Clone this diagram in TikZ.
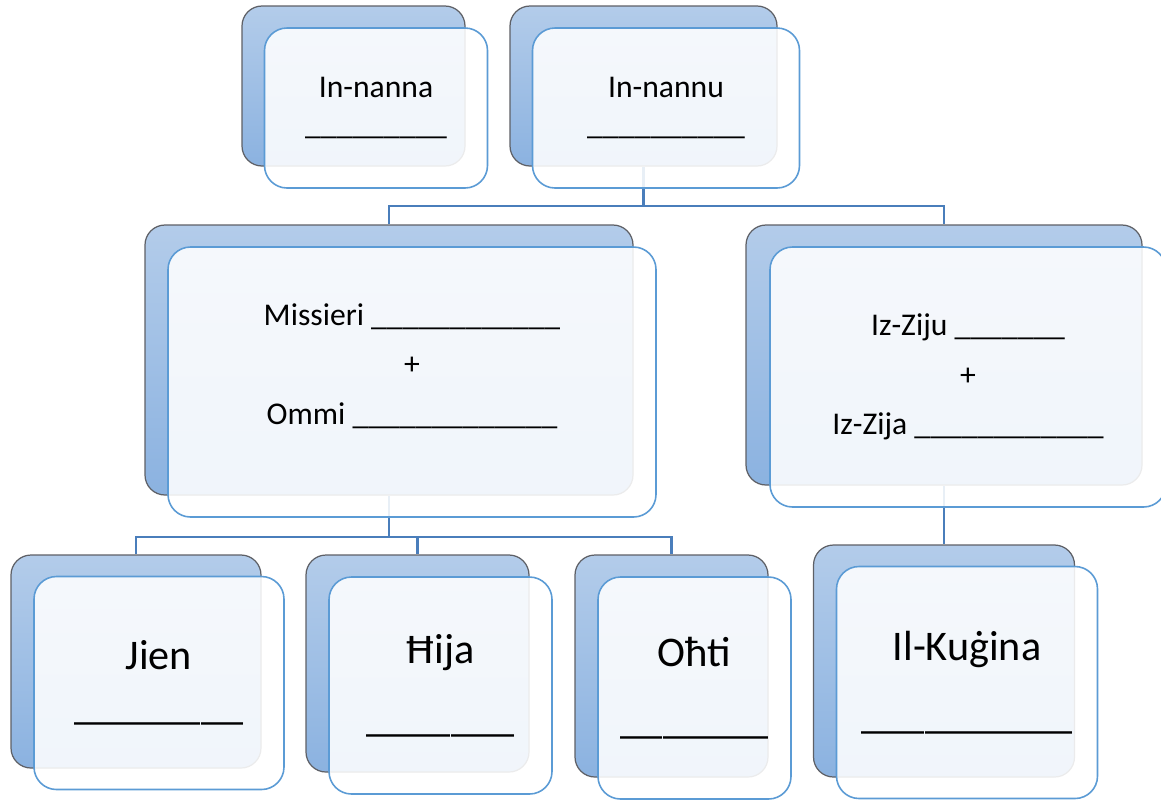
\documentclass[tikz,border=0pt]{standalone}
\usepackage{fontspec}
\setmainfont{Carlito}
\usetikzlibrary{backgrounds}
\definecolor{backtop}{HTML}{B3CCEA}
\definecolor{backbot}{HTML}{8BB2E0}
\definecolor{backline}{HTML}{5E6066}
\definecolor{frontline}{HTML}{5B9BD5}
\definecolor{linkblue}{HTML}{4A7EBB}

\begin{document}
\begin{tikzpicture}[
backbox/.style={rectangle, draw=backline, top color=backtop, bottom color=backbot, line width=0.7pt, rounded corners=0.4cm},
frontbox/.style={rectangle, draw=frontline, fill=white, fill opacity=0.88, text opacity=1, line width=0.9pt, rounded corners=0.45cm, align=center},
smalltext/.style={font=\fontsize{18pt}{21pt}\selectfont},
midtext/.style={font=\fontsize{18pt}{28pt}\selectfont},
bigtext/.style={font=\fontsize{24pt}{28.5pt}\selectfont},
link/.style={draw=linkblue, line width=1.4pt}
]
\useasboundingbox (0,0) rectangle (23.22,-15.98);

%Nodes
\node[backbox, minimum width=4.46cm, minimum height=3.2cm] at (7.07,-1.72) (Innanna-b) {};
\node[frontbox, smalltext, minimum width=4.46cm, minimum height=3.2cm] at (7.52,-2.16) (Innanna-f) {In-nanna\\\_\_\_\_\_\_\_\_\_};

\node[backbox, minimum width=5.34cm, minimum height=3.2cm] at (12.87,-1.72) (Innannu-b) {};
\node[frontbox, smalltext, minimum width=5.34cm, minimum height=3.2cm] at (13.32,-2.16) (Innannu-f) {In-nannu\\\_\_\_\_\_\_\_\_\_\_};

\node[backbox, minimum width=9.76cm, minimum height=5.4cm] at (7.78,-7.2) (Missieri-b) {};
\node[frontbox, midtext, text depth=0.72cm, minimum width=9.76cm, minimum height=5.4cm] at (8.24,-7.64) (Missieri-f) {Missieri \_\_\_\_\_\_\_\_\_\_\_\_\\+\\Ommi \_\_\_\_\_\_\_\_\_\_\_\_\_};

\node[backbox, minimum width=7.92cm, minimum height=5.2cm] at (18.88,-7.1) (IzZiju-b) {};
\node[frontbox, midtext, minimum width=7.92cm, minimum height=5.2cm] at (19.36,-7.54) (IzZiju-f) {Iz-Ziju \_\_\_\_\_\_\_\\+\\Iz-Zija \_\_\_\_\_\_\_\_\_\_\_\_};

\node[backbox, minimum width=5cm, minimum height=4.26cm] at (2.72,-13.23) (Jien-b) {};
\node[frontbox, bigtext, minimum width=5cm, minimum height=4.26cm] at (3.18,-13.66) (Jien-f) {Jien\\\_\_\_\_\_\_\_\_};

\node[backbox, minimum width=4.46cm, minimum height=4.34cm] at (8.35,-13.27) (Hija-b) {};
\node[frontbox, bigtext, minimum width=4.46cm, minimum height=4.34cm] at (8.81,-13.71) (Hija-f) {Ħija\\[10pt]\_\_\_\_\_\_\_};

\node[backbox, minimum width=3.86cm, minimum height=4.44cm] at (13.43,-13.32) (Ohti-b) {};
\node[frontbox, bigtext, minimum width=3.86cm, minimum height=4.44cm] at (13.89,-13.76) (Ohti-f) {Oħti\\[10pt]\_\_\_\_\_\_\_};

\node[backbox, minimum width=5.22cm, minimum height=4.64cm] at (18.88,-13.22) (Kugina-b) {};
\node[frontbox, bigtext, minimum width=5.22cm, minimum height=4.64cm] at (19.34,-13.65) (Kugina-f) {Il-Kuġina\\[10pt]\_\_\_\_\_\_\_\_\_\_};

\coordinate (bus1) at (12.87,-4.12);
\coordinate (bus2) at (7.78,-10.74);

%Lines
\begin{scope}[on background layer]
\draw[link] (Innannu-b.south) -- (bus1);
\draw[link] (Missieri-b.north) |- (bus1) -| (IzZiju-b.north);
\draw[link] (Missieri-b.south) -- (bus2);
\draw[link] (Jien-b.north) |- (bus2) -| (Ohti-b.north);
\draw[link] (bus2) -| (Hija-b.north);
\draw[link] (IzZiju-b.south) -- (Kugina-b.north);
\end{scope}
\end{tikzpicture}
\end{document}
